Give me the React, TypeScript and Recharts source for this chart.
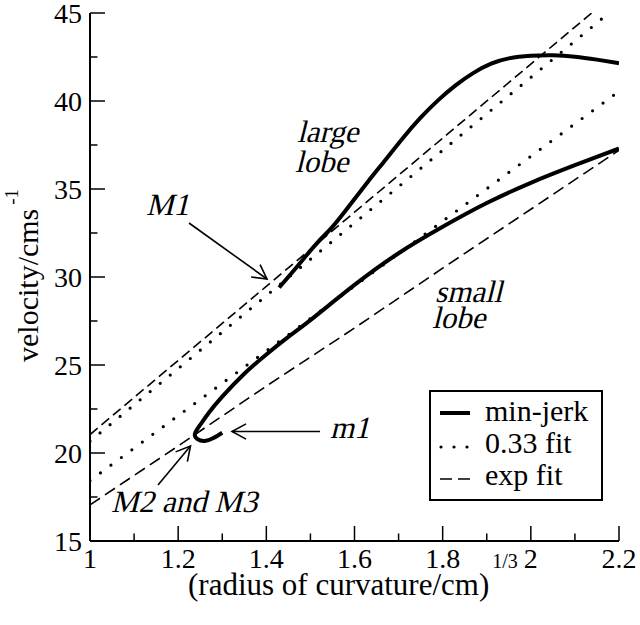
import { ComposedChart, Customized, Legend, Line, XAxis, YAxis } from "recharts";

type Pt = { x: number; v: number };

const X_MAJOR = [1, 1.2, 1.4, 1.6, 1.8, 2, 2.2];
const X_MINOR = [1.1, 1.3, 1.5, 1.7, 1.9, 2.1];
const Y_MAJOR = [15, 20, 25, 30, 35, 40, 45];
const Y_MINOR = [17.5, 22.5, 27.5, 32.5, 37.5, 42.5];

// min-jerk, large lobe branch (starts at M1, leaves the plot at the right edge)
const minJerkLarge: Pt[] = [
  { x: 1.429, v: 29.4 },
  { x: 1.47, v: 30.6 },
  { x: 1.514, v: 31.9 },
  { x: 1.55, v: 32.85 },
  { x: 1.59, v: 34.1 },
  { x: 1.63, v: 35.4 },
  { x: 1.67, v: 36.65 },
  { x: 1.71, v: 37.9 },
  { x: 1.75, v: 39.05 },
  { x: 1.79, v: 40.05 },
  { x: 1.83, v: 40.9 },
  { x: 1.87, v: 41.6 },
  { x: 1.91, v: 42.12 },
  { x: 1.95, v: 42.42 },
  { x: 2.0, v: 42.57 },
  { x: 2.05, v: 42.6 },
  { x: 2.1, v: 42.52 },
  { x: 2.15, v: 42.35 },
  { x: 2.2, v: 42.15 },
];

// min-jerk, small lobe branch (from the right edge down to the m1 hook)
const minJerkSmall: Pt[] = [
  { x: 2.2, v: 37.3 },
  { x: 2.1, v: 36.35 },
  { x: 2.0, v: 35.35 },
  { x: 1.9, v: 34.2 },
  { x: 1.8, v: 32.85 },
  { x: 1.7, v: 31.35 },
  { x: 1.6, v: 29.55 },
  { x: 1.5, v: 27.55 },
  { x: 1.45, v: 26.6 },
  { x: 1.4, v: 25.6 },
  { x: 1.35, v: 24.5 },
  { x: 1.3, v: 23.2 },
  { x: 1.27, v: 22.3 },
  { x: 1.25, v: 21.6 },
  { x: 1.238, v: 21.1 },
  { x: 1.243, v: 20.8 },
  { x: 1.26, v: 20.68 },
  { x: 1.28, v: 20.85 },
  { x: 1.3, v: 21.15 },
];

const fit033Large: Pt[] = [
  { x: 1, v: 20.67 },
  { x: 1.2, v: 24.8 },
  { x: 1.4, v: 28.94 },
  { x: 1.6, v: 33.07 },
  { x: 1.8, v: 37.2 },
  { x: 2.0, v: 41.34 },
  { x: 2.177, v: 45.0 },
];

const fit033Small: Pt[] = [
  { x: 1, v: 18.43 },
  { x: 1.2, v: 22.12 },
  { x: 1.4, v: 25.8 },
  { x: 1.6, v: 29.49 },
  { x: 1.8, v: 33.17 },
  { x: 2.0, v: 36.86 },
  { x: 2.2, v: 40.55 },
];

const expFitLarge: Pt[] = [
  { x: 1, v: 21.05 },
  { x: 1.2, v: 25.26 },
  { x: 1.4, v: 29.47 },
  { x: 1.6, v: 33.68 },
  { x: 1.8, v: 37.89 },
  { x: 2.0, v: 42.1 },
  { x: 2.138, v: 45.0 },
];

const expFitSmall: Pt[] = [
  { x: 1, v: 17.05 },
  { x: 1.2, v: 20.4 },
  { x: 1.4, v: 23.8 },
  { x: 1.6, v: 27.1 },
  { x: 1.8, v: 30.5 },
  { x: 2.0, v: 33.85 },
  { x: 2.2, v: 37.2 },
];

const FONT = "'Liberation Serif', 'Times New Roman', serif";
const DOTS = "0 13";

const xTicks = [...X_MAJOR, ...X_MINOR].sort((a, b) => a - b);
const yTicks = [...Y_MAJOR, ...Y_MINOR].sort((a, b) => a - b);

const isMajor = (list: number[], v: number) => list.some((m) => Math.abs(m - v) < 1e-9);

function makeTick(side: "bottom" | "top" | "left" | "right") {
  return (props: any) => {
    const { x, y, payload } = props;
    const v = payload.value as number;
    const major = isMajor(side === "bottom" || side === "top" ? X_MAJOR : Y_MAJOR, v);
    const len = major ? 15 : 7.5;
    let line;
    if (side === "bottom") line = <line x1={x} y1={y} x2={x} y2={y - len} />;
    else if (side === "top") line = <line x1={x} y1={y} x2={x} y2={y + len} />;
    else if (side === "left") line = <line x1={x} y1={y} x2={x + len} y2={y} />;
    else line = <line x1={x} y1={y} x2={x - len} y2={y} />;
    return (
      <g>
        <g stroke="#000" strokeWidth={1.5}>{line}</g>
        {major && side === "bottom" && (
          <text x={x} y={y + 27} textAnchor="middle" fontFamily={FONT} fontSize={28} fill="#000">
            {String(v)}
          </text>
        )}
        {major && side === "left" && (
          <text x={x - 8} y={y + 9.5} textAnchor="end" fontFamily={FONT} fontSize={28} fill="#000">
            {String(v)}
          </text>
        )}
      </g>
    );
  };
}

function Arrow({ from, to }: { from: [number, number]; to: [number, number] }) {
  const [x1, y1] = from;
  const [x2, y2] = to;
  const a = Math.atan2(y2 - y1, x2 - x1);
  const L = 16;
  const w = 0.5;
  const h1 = [x2 - L * Math.cos(a - w), y2 - L * Math.sin(a - w)];
  const h2 = [x2 - L * Math.cos(a + w), y2 - L * Math.sin(a + w)];
  return (
    <g stroke="#000" strokeWidth={1.6} fill="none">
      <line x1={x1} y1={y1} x2={x2} y2={y2} />
      <polyline points={`${h1[0]},${h1[1]} ${x2},${y2} ${h2[0]},${h2[1]}`} />
    </g>
  );
}

// no italic serif face is installed, so slant the regular one
function Slanted({ x, y, children }: { x: number; y: number; children: string }) {
  return (
    <text transform={`translate(${x},${y}) skewX(-14)`} fontFamily={FONT} fontSize={31} fill="#000">
      {children}
    </text>
  );
}

function Annotations() {
  return (
    <g>
      <Slanted x={297} y={142}>large</Slanted>
      <Slanted x={295} y={172}>lobe</Slanted>
      <Slanted x={435} y={302}>small</Slanted>
      <Slanted x={432} y={328}>lobe</Slanted>
      <Slanted x={146} y={215}>M1</Slanted>
      <Slanted x={330} y={438}>m1</Slanted>
      <Slanted x={111} y={512}>M2 and M3</Slanted>
      <Arrow from={[189, 223]} to={[267, 279]} />
      <Arrow from={[320, 431.5]} to={[232, 431.5]} />
      <Arrow from={[158, 485]} to={[190.5, 446]} />
      <text x={188} y={595} fontFamily={FONT} fontSize={31} fill="#000">
        (radius of curvature/cm)
        <tspan dx={3} dy={-27} fontSize={20}>1/3</tspan>
      </text>
      <text transform="translate(38,362) rotate(-90)" fontFamily={FONT} fontSize={30} fill="#000">
        velocity/cms
        <tspan dx={4} dy={-20} fontSize={19}>-1</tspan>
      </text>
    </g>
  );
}

function LegendBox() {
  const t = { fontFamily: FONT, fontSize: 30, fill: "#000" };
  return (
    <svg width={174} height={111} style={{ display: "block" }}>
      <rect x={1} y={1} width={172} height={109} fill="#fff" stroke="#000" strokeWidth={2} />
      <line x1={11} y1={23} x2={41} y2={23} stroke="#000" strokeWidth={4} />
      <line x1={12} y1={57} x2={41} y2={57} stroke="#000" strokeWidth={3.2} strokeLinecap="round" strokeDasharray={DOTS} />
      <line x1={11} y1={89} x2={42} y2={89} stroke="#000" strokeWidth={1.6} strokeDasharray="12 6" />
      <text x={56} y={31} {...t}>min-jerk</text>
      <text x={56} y={63} {...t}>0.33 fit</text>
      <text x={56} y={95} {...t}>exp fit</text>
    </svg>
  );
}

export default function App() {
  return (
    <div style={{ position: "absolute", left: 0, top: 0, width: 640, height: 625, background: "#fff" }}>
      <ComposedChart width={640} height={625} margin={{ top: 13, right: 21, bottom: 0, left: 0 }}>
        <XAxis
          dataKey="x"
          type="number"
          domain={[1, 2.2]}
          allowDataOverflow
          ticks={xTicks}
          interval={0}
          tickSize={0}
          tickMargin={0}
          tick={makeTick("bottom")}
          height={84}
          axisLine={{ stroke: "#000", strokeWidth: 2 }}
        />
        <XAxis
          xAxisId="top"
          orientation="top"
          dataKey="x"
          type="number"
          domain={[1, 2.2]}
          allowDataOverflow
          ticks={xTicks}
          interval={0}
          tickSize={0}
          tickMargin={0}
          tick={makeTick("top")}
          height={0}
          axisLine={{ stroke: "#000", strokeWidth: 2 }}
        />
        <YAxis
          type="number"
          domain={[15, 45]}
          allowDataOverflow
          ticks={yTicks}
          interval={0}
          tickSize={0}
          tickMargin={0}
          tick={makeTick("left")}
          width={90}
          axisLine={{ stroke: "#000", strokeWidth: 2 }}
        />
        <YAxis
          yAxisId="right"
          orientation="right"
          type="number"
          domain={[15, 45]}
          allowDataOverflow
          ticks={yTicks}
          interval={0}
          tickSize={0}
          tickMargin={0}
          tick={makeTick("right")}
          width={0}
          axisLine={{ stroke: "#000", strokeWidth: 2 }}
        />
        <Legend
          layout="vertical"
          align="center"
          verticalAlign="middle"
          content={() => <LegendBox />}
          wrapperStyle={{ position: "absolute", left: 429, top: 390, width: 174, height: 111 }}
        />
        <Line data={expFitLarge} dataKey="v" type="linear" stroke="#000" strokeWidth={1.6} strokeDasharray="10 5" dot={false} isAnimationActive={false} />
        <Line data={expFitSmall} dataKey="v" type="linear" stroke="#000" strokeWidth={1.6} strokeDasharray="12 6" dot={false} isAnimationActive={false} />
        <Line data={fit033Large} dataKey="v" type="linear" stroke="#000" strokeWidth={3.2} strokeLinecap="round" strokeDasharray={DOTS} dot={false} isAnimationActive={false} />
        <Line data={fit033Small} dataKey="v" type="linear" stroke="#000" strokeWidth={3.2} strokeLinecap="round" strokeDasharray={DOTS} dot={false} isAnimationActive={false} />
        <Line data={minJerkLarge} dataKey="v" type="natural" stroke="#000" strokeWidth={4} dot={false} isAnimationActive={false} />
        <Line data={minJerkSmall} dataKey="v" type="natural" stroke="#000" strokeWidth={4} dot={false} isAnimationActive={false} />
        <Customized component={Annotations} />
      </ComposedChart>
    </div>
  );
}
